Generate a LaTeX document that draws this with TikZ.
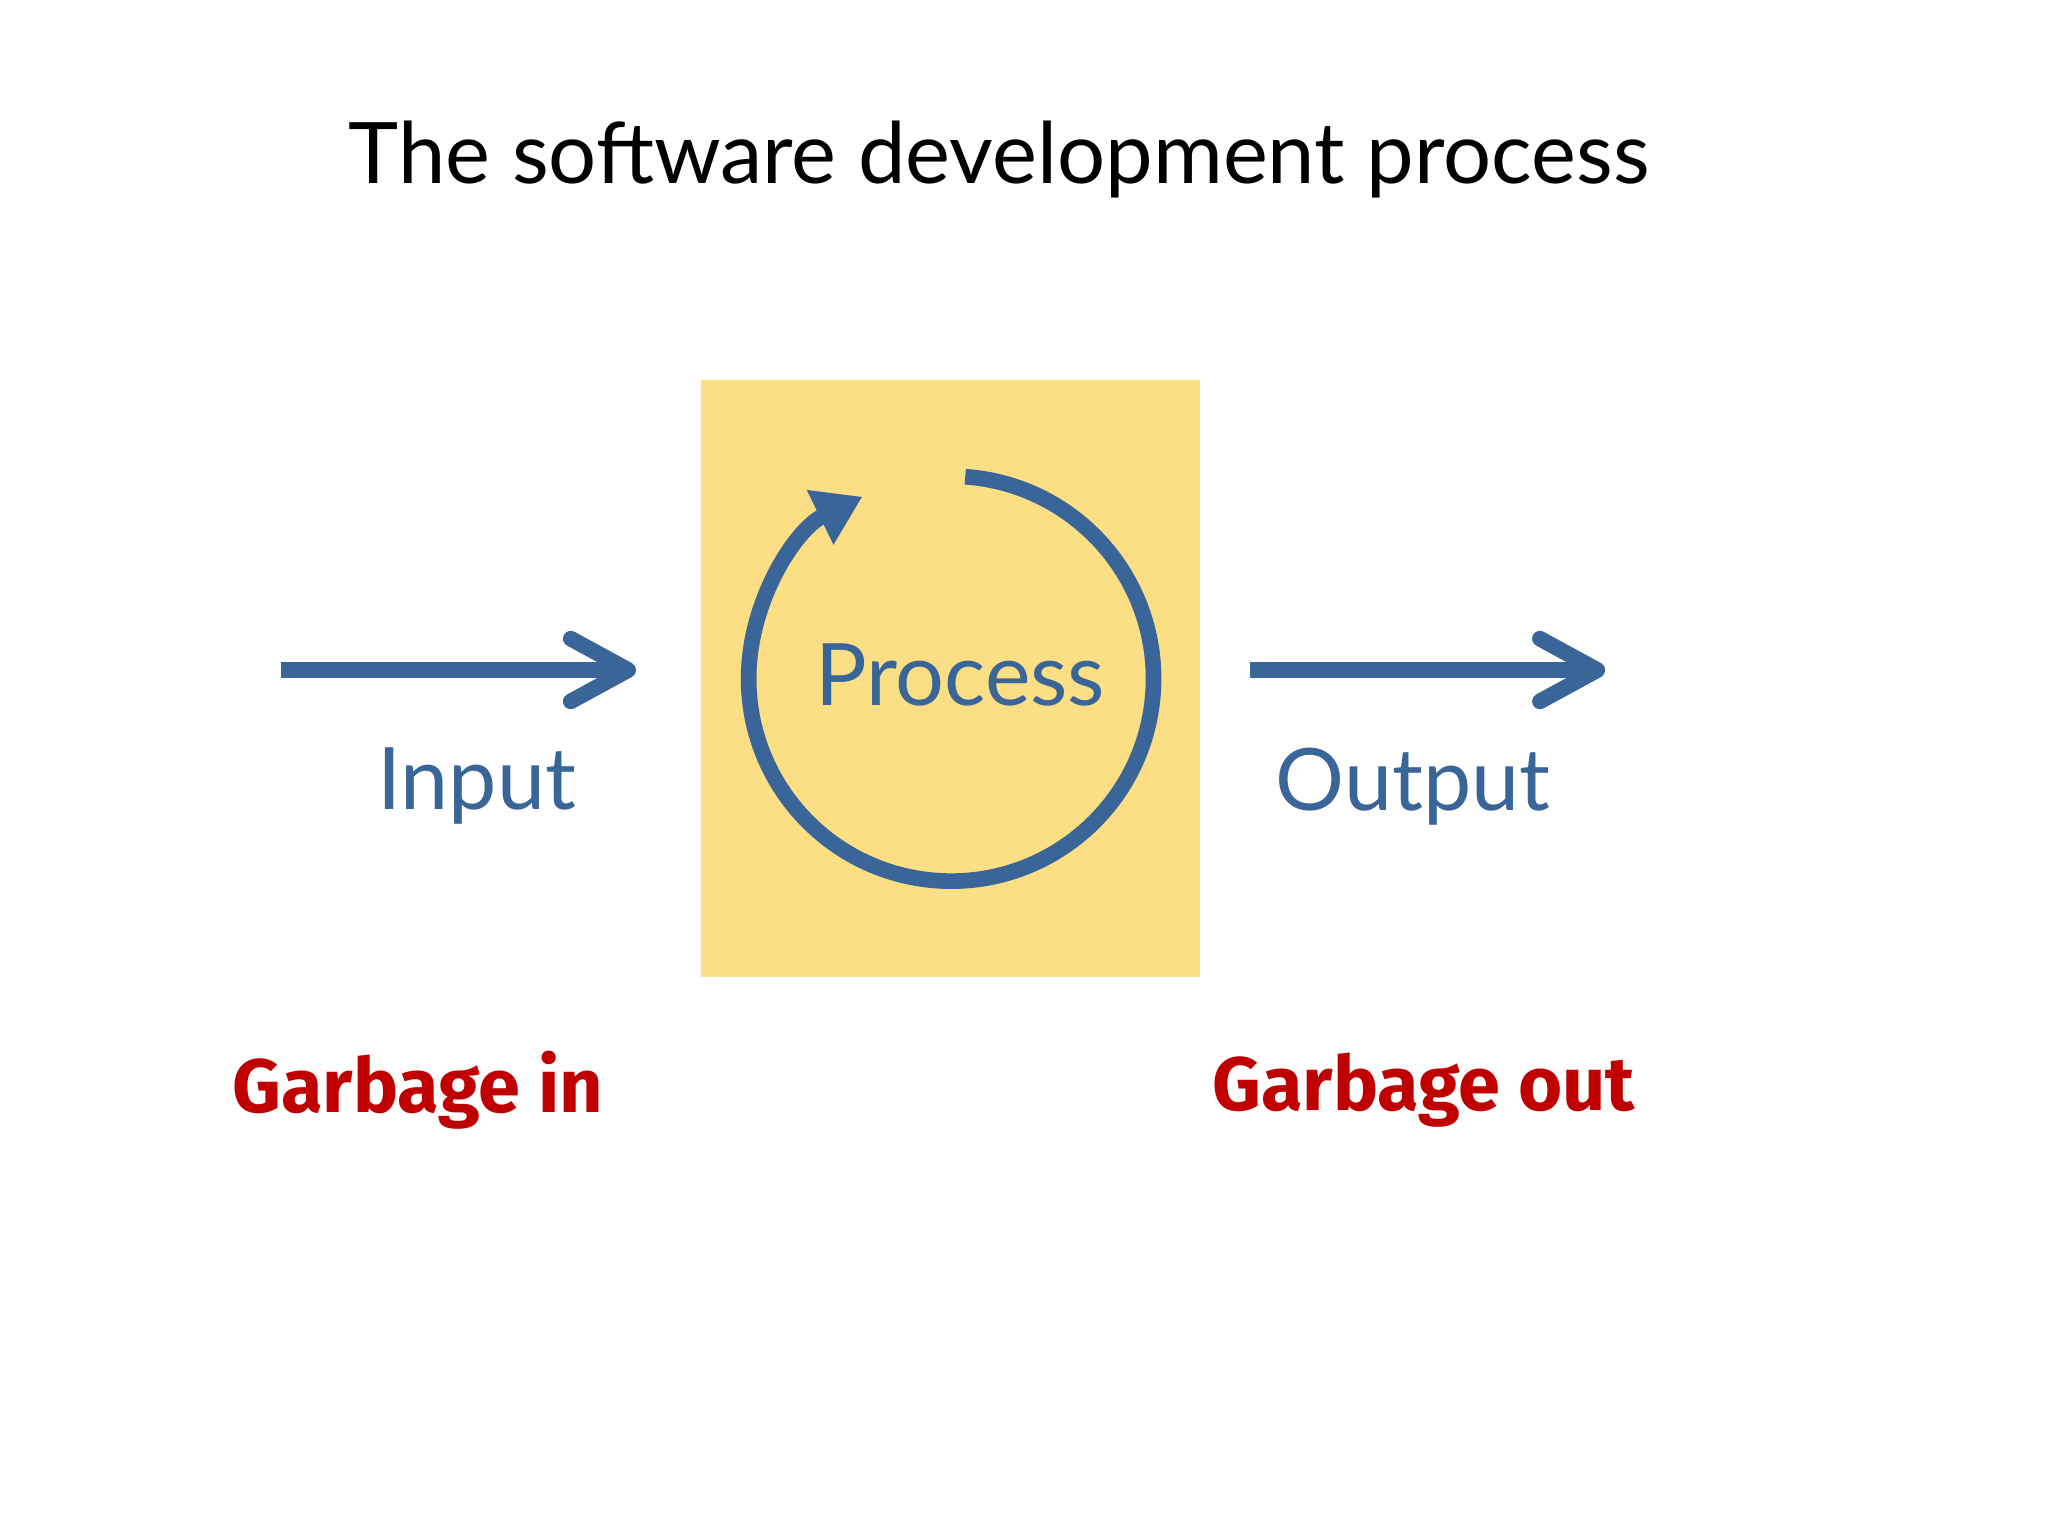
\documentclass[tikz,border=0pt]{standalone}
\usepackage{fontspec}
\setmainfont{Lato}
\newfontfamily\handfont{Fira Sans}
\usetikzlibrary{arrows.meta}
\definecolor{pblue}{HTML}{3A6598}
\definecolor{pyellow}{HTML}{FCDE85}
\definecolor{pred}{HTML}{C00000}
\tikzset{
  flow/.style={draw=pblue,line width=6pt,-{Straight Barb[length=22pt,width=24pt,line cap=round,line join=round]}},
  lbl/.style={text=pblue,font=\fontsize{33}{38}\selectfont,inner sep=0pt},
  garb/.style={text=pred,font=\handfont\bfseries\fontsize{29}{34}\selectfont,inner sep=0pt}
}
\begin{document}
\begin{tikzpicture}[x=0.5pt,y=-0.5pt]
\useasboundingbox (0,0) rectangle (1568,1176);
\fill[white] (0,0) rectangle (1568,1176);
\node[inner sep=0pt,font=\fontsize{32.5}{38}\selectfont] (title) at (765,122) {The software development process};
\fill[pyellow] (537,291) rectangle (919,748);
\coordinate (c) at (728,520);
\draw[pblue,line width=6pt,-{Triangle[length=18pt,width=22pt]}] (739,365) arc[start angle=-86,end angle=244,radius=155];
\node[lbl] (proc) at (735,517) {Process};
\coordinate (i1) at (215,513); \coordinate (i2) at (487,513);
\coordinate (o1) at (957,513); \coordinate (o2) at (1229,513);
\draw[flow] (i1) -- (i2);
\draw[flow] (o1) -- (o2);
\node[lbl] (in) at (365,602) {Input};
\node[lbl] (out) at (1082,602) {Output};
\node[garb] (gi) at (320,835) {Garbage in};
\node[garb] (go) at (1090,835) {Garbage out};
\end{tikzpicture}
\end{document}
